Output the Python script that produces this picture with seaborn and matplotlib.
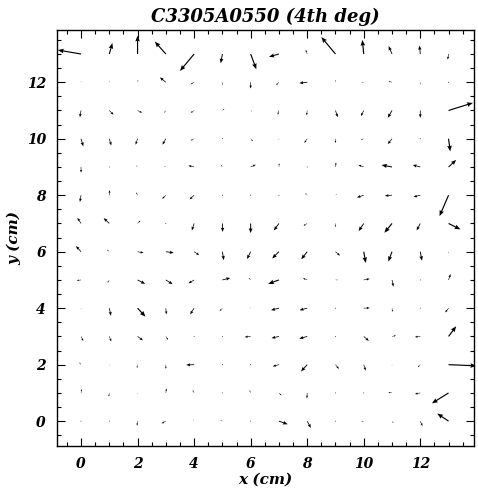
import numpy as np
import matplotlib
matplotlib.use("Agg")
import matplotlib.pyplot as plt
import seaborn as sns

# grid positions (cm)
x_vals = list(range(14))
y_vals = list(range(14))

# vector components, rows listed from y=13 (top) down to y=0
U_rows = [
    [-0.82, 0.11, 0.00, -0.39, -0.50, -0.06, 0.20, -0.35, -0.05, -0.50, -0.05, -0.12, -0.03, -0.03],
    [0.00, 0.00, 0.02, -0.21, -0.12, 0.00, 0.00, -0.10, -0.28, 0.00, -0.08, -0.12, 0.00, 0.02],
    [-0.04, 0.15, 0.16, -0.06, -0.12, 0.07, 0.05, -0.04, -0.02, 0.08, -0.10, -0.15, 0.00, 0.86],
    [0.08, 0.07, -0.07, -0.12, -0.12, 0.00, 0.08, 0.00, -0.10, 0.00, -0.10, -0.15, 0.00, 0.06],
    [0.00, 0.02, -0.05, -0.06, -0.20, -0.05, 0.18, 0.01, 0.02, 0.02, -0.19, -0.37, -0.27, 0.27],
    [-0.04, 0.01, -0.05, -0.13, -0.16, 0.00, 0.00, 0.01, -0.07, 0.05, -0.24, -0.25, -0.24, -0.32],
    [-0.13, -0.20, 0.10, 0.01, -0.08, 0.01, 0.00, -0.18, -0.13, 0.00, -0.18, -0.27, -0.13, 0.42],
    [-0.18, -0.08, 0.21, 0.28, 0.18, 0.05, -0.13, -0.24, -0.21, 0.16, 0.07, -0.13, 0.06, 0.00],
    [-0.15, -0.06, 0.27, 0.24, -0.20, 0.28, -0.07, -0.38, -0.15, 0.08, 0.21, 0.05, 0.00, 0.07],
    [0.00, 0.06, 0.28, 0.02, -0.14, -0.10, 0.00, -0.28, -0.27, 0.01, 0.21, 0.02, 0.01, -0.12],
    [0.08, 0.07, 0.19, 0.08, 0.01, 0.00, -0.21, -0.26, -0.28, 0.02, 0.18, 0.14, -0.19, 0.27],
    [-0.06, 0.00, -0.02, 0.00, -0.28, 0.00, 0.01, -0.22, -0.22, 0.12, 0.07, 0.00, -0.09, 0.98],
    [0.02, -0.02, 0.00, 0.02, -0.05, 0.00, -0.04, 0.09, -0.01, 0.00, 0.00, -0.13, -0.19, -0.59],
    [0.01, 0.00, -0.02, -0.15, -0.03, -0.07, 0.00, 0.31, 0.13, 0.00, -0.08, 0.05, 0.08, -0.40],
]
V_rows = [
    [0.14, 0.39, 0.65, 0.44, -0.60, -0.33, -0.54, -0.10, 0.15, 0.60, 0.50, 0.28, 0.30, -0.20],
    [0.04, 0.05, 0.08, 0.17, -0.07, -0.10, -0.22, -0.10, -0.03, 0.08, 0.00, 0.03, -0.08, 0.00],
    [-0.24, -0.15, -0.08, -0.08, -0.08, 0.06, -0.03, -0.15, -0.17, -0.24, -0.20, -0.26, -0.26, 0.27],
    [-0.27, -0.24, -0.21, -0.21, -0.06, 0.02, -0.09, -0.05, -0.15, -0.15, -0.04, -0.19, 0.03, -0.45],
    [-0.20, 0.00, 0.05, 0.03, 0.05, 0.07, 0.08, 0.13, -0.01, 0.16, 0.07, 0.07, 0.07, 0.25],
    [-0.24, 0.18, 0.10, -0.13, -0.15, -0.03, 0.02, 0.01, 0.07, 0.03, -0.08, -0.02, -0.06, -0.74],
    [0.20, 0.19, 0.10, 0.00, -0.25, -0.30, -0.34, -0.25, -0.08, -0.13, -0.27, -0.33, -0.25, -0.21],
    [0.20, 0.07, -0.04, -0.04, -0.12, -0.30, -0.26, -0.24, -0.27, -0.14, -0.40, -0.35, -0.32, -0.06],
    [-0.02, -0.10, -0.14, -0.15, -0.12, 0.07, 0.07, -0.14, 0.06, 0.00, 0.04, -0.24, -0.02, 0.21],
    [-0.04, -0.27, -0.30, -0.22, -0.22, -0.10, 0.04, -0.07, -0.07, 0.02, 0.01, -0.13, 0.02, -0.15],
    [-0.16, -0.18, -0.14, -0.12, 0.01, -0.02, -0.02, -0.06, -0.08, 0.02, -0.16, 0.03, -0.02, 0.36],
    [0.08, -0.04, -0.12, -0.15, -0.01, -0.03, 0.01, -0.06, -0.24, -0.15, -0.21, -0.04, -0.09, -0.04],
    [0.13, -0.13, -0.04, 0.16, 0.10, -0.02, 0.10, -0.09, -0.19, -0.03, 0.01, 0.02, -0.04, -0.37],
    [0.00, -0.02, -0.16, -0.08, 0.04, 0.03, -0.02, -0.11, -0.24, -0.02, -0.02, -0.07, -0.17, 0.27],
]

title = "C3305A0550 (4th deg)"
xlabel = "x (cm)"
ylabel = "y (cm)"
xticks = [0, 2, 4, 6, 8, 10, 12]
yticks = [0, 2, 4, 6, 8, 10, 12]

sns.set_style("white")
plt.rcParams['font.family'] = ['DejaVu Serif']
plt.rcParams['text.color'] = 'black'
plt.rcParams['axes.labelcolor'] = 'black'
plt.rcParams['xtick.color'] = 'black'
plt.rcParams['ytick.color'] = 'black'

U = np.array(U_rows[::-1])
V = np.array(V_rows[::-1])
X, Y = np.meshgrid(x_vals, y_vals)

fig = plt.figure(figsize=(4.78, 4.90), dpi=100)
ax = fig.add_axes([57/478, 1 - 446/490, (474 - 57)/478, (446 - 30)/490])

ax.quiver(X, Y, U, V, angles='xy', scale_units='xy', scale=1, pivot='tail',
          color='black', width=0.0028, headwidth=4, headlength=5,
          headaxislength=4.5, minshaft=2, minlength=0.8)

ax.set_xlim(-0.85, 13.9)
ax.set_ylim(-0.88, 13.85)
ax.set_xticks(xticks)
ax.set_yticks(yticks)
ax.set_xticks(np.arange(-0.5, 14.0, 0.5), minor=True)
ax.set_yticks(np.arange(-0.5, 14.0, 0.5), minor=True)
ax.tick_params(which='both', direction='in', top=True, right=True,
               bottom=True, left=True, color='black', width=0.8)
ax.tick_params(which='major', length=6, pad=8)
ax.tick_params(which='minor', length=3)
for lab in ax.get_xticklabels() + ax.get_yticklabels():
    lab.set_fontstyle('italic')
    lab.set_fontweight('bold')
    lab.set_fontsize(10)
    lab.set_color('black')
for s in ax.spines.values():
    s.set_color('black')
    s.set_linewidth(1.0)

ax.set_title(title, fontsize=13, fontstyle='italic', fontweight='bold', pad=6, color='black')
ax.set_xlabel(xlabel, fontsize=11, fontstyle='italic', fontweight='bold', labelpad=1)
ax.set_ylabel(ylabel, fontsize=11, fontstyle='italic', fontweight='bold', labelpad=4)

fig.savefig("out.png", dpi=100)
